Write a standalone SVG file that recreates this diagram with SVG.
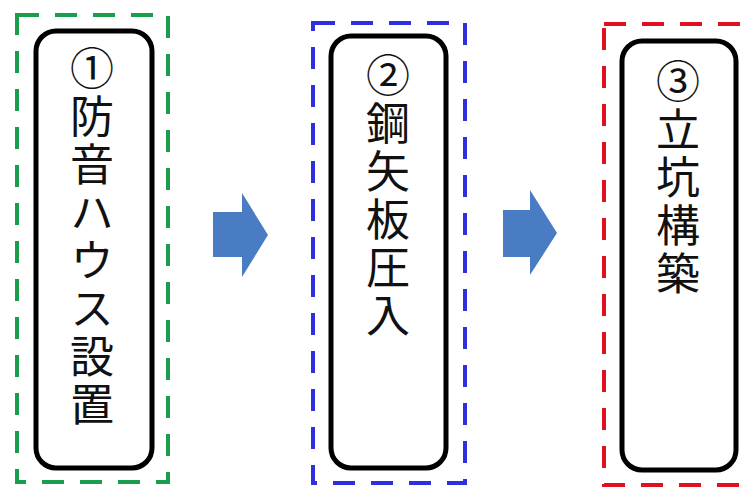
<svg xmlns="http://www.w3.org/2000/svg" width="752" height="491" viewBox="0 0 752 491">
<style>
.frame{fill:none;stroke-width:4;stroke-dasharray:22 16}
.card{fill:#fff;stroke:#000;stroke-width:5}
.t{font-family:"Noto Sans CJK JP","Noto Sans",sans-serif;font-size:44px;fill:#111;writing-mode:vertical-rl;letter-spacing:4px}
.arrow{fill:#4a7cc4}
</style>
<rect width="752" height="491" fill="#fff"/>
<g id="step1">
<rect class="frame" x="17" y="15" width="151" height="467" stroke="#1a9e4e"/>
<rect class="card" x="36" y="31" width="116" height="437" rx="20"/>
<text class="t" x="92" y="46">①防音ハウス設置</text>
</g>
<g id="step2">
<rect class="frame" x="313" y="23" width="152" height="460" stroke="#2f2fe0"/>
<rect class="card" x="331" y="36" width="115" height="432" rx="20"/>
<text class="t" x="388" y="53">②鋼矢板圧入</text>
</g>
<g id="step3">
<rect class="frame" x="604" y="24" width="160" height="461" stroke="#e0101e"/>
<rect class="card" x="622" y="41" width="114" height="429" rx="20"/>
<text class="t" x="678" y="59">③立坑構築</text>
</g>
<g id="connectors">
<polygon class="arrow" points="213,212 242,212 242,193 268,235 242,277 242,257 213,257"/>
<polygon class="arrow" points="503,210 530,210 530,190 557,233 530,275 530,257 503,257"/>
</g>
</svg>
